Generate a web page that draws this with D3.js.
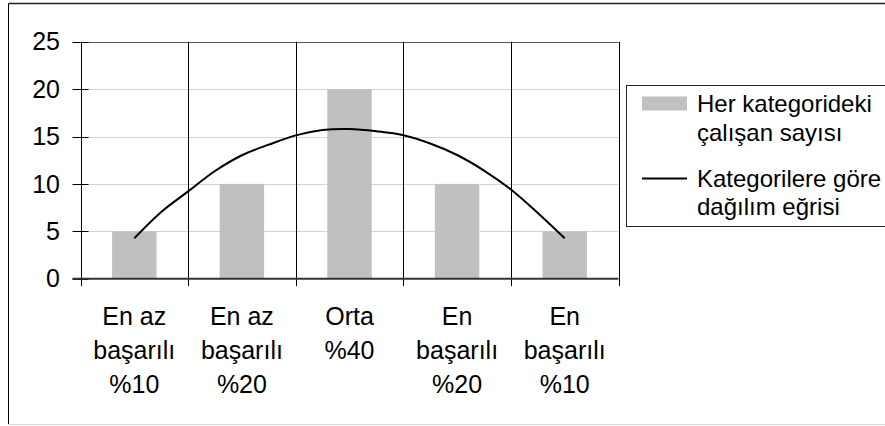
<!DOCTYPE html>
<html>
<head>
<meta charset="utf-8">
<script src="https://cdn.jsdelivr.net/npm/d3@7"></script>
<style>
  html, body { margin: 0; padding: 0; background: #fff; }
  svg { display: block; font-family: "Liberation Sans", Arial, sans-serif; }
</style>
</head>
<body>
<svg id="chart" width="885" height="426"></svg>
<script>
// Category labels (each entry is the label's lines)
const categories = [
  ["En az", "başarılı", "%10"],
  ["En az", "başarılı", "%20"],
  ["Orta", "%40"],
  ["En", "başarılı", "%20"],
  ["En", "başarılı", "%10"]
];

// Number of employees per category (bars)
const employeeCounts = [5, 10, 20, 10, 5];

// Distribution curve: position along the categories (0 = first, 4 = last) and value
const curvePositions = [0, 0.25, 0.5, 0.75, 1, 1.25, 1.5, 1.75, 2, 2.25, 2.5, 2.75, 3, 3.25, 3.5, 3.75, 4];
const curveValues = [4.26, 7.04, 9.21, 11.36, 13.02, 14.14, 15.12, 15.69, 15.79, 15.55, 15.13, 14.26, 13.05, 11.41, 9.41, 6.93, 4.26];

// Y axis ticks
const yTicks = [0, 5, 10, 15, 20, 25];

// Legend entries
const legendBarLabel = ["Her kategorideki", "çalışan sayısı"];
const legendLineLabel = ["Kategorilere göre", "dağılım eğrisi"];

const svg = d3.select("#chart");
const FONT = 25;
const LEGEND_FONT = 24;

const plot = { left: 80.5, right: 618.5, top: 41.7, bottom: 278.7 };

const x = d3.scaleBand()
  .domain(d3.range(categories.length))
  .range([plot.left, plot.right])
  .padding(0);

const y = d3.scaleLinear()
  .domain([0, 25])
  .range([plot.bottom, plot.top]);

const xCurve = d3.scaleLinear()
  .domain([0, categories.length - 1])
  .range([x(0) + x.bandwidth() / 2, x(categories.length - 1) + x.bandwidth() / 2]);

// Chart area frame (left and top edges dark, bottom light)
svg.append("line").attr("x1", 8.5).attr("x2", 8.5).attr("y1", 3.5).attr("y2", 424)
  .attr("stroke", "#000").attr("stroke-width", 1);
svg.append("line").attr("x1", 8.5).attr("x2", 885).attr("y1", 3.5).attr("y2", 3.5)
  .attr("stroke", "#222").attr("stroke-width", 1.5);
svg.append("line").attr("x1", 8.5).attr("x2", 885).attr("y1", 424.5).attr("y2", 424.5)
  .attr("stroke", "#d8d8d8").attr("stroke-width", 1);

// Horizontal gridlines
svg.append("g")
  .selectAll("line")
  .data(yTicks.filter(d => d > 0 && d < 25))
  .join("line")
  .attr("x1", plot.left).attr("x2", plot.right)
  .attr("y1", d => Math.round(y(d)) + 0.5).attr("y2", d => Math.round(y(d)) + 0.5)
  .attr("stroke", "#d4d4d4").attr("stroke-width", 1.2);

// Top line at the axis maximum
svg.append("line")
  .attr("x1", plot.left).attr("x2", plot.right)
  .attr("y1", Math.round(y(25)) + 0.5).attr("y2", Math.round(y(25)) + 0.5)
  .attr("stroke", "#555").attr("stroke-width", 1.2);

// Bars
const barWidth = x.bandwidth() * 0.413;
svg.append("g")
  .selectAll("rect")
  .data(employeeCounts)
  .join("rect")
  .attr("x", (d, i) => x(i) + (x.bandwidth() - barWidth) / 2)
  .attr("y", d => y(d))
  .attr("width", barWidth)
  .attr("height", d => y(0) - y(d))
  .attr("fill", "#c0c0c0");

// Vertical category boundary lines, extending below the axis as tick marks
const boundaries = d3.range(categories.length + 1).map(i => i < categories.length ? x(i) : x(i - 1) + x.bandwidth());
svg.append("g")
  .selectAll("line")
  .data(boundaries)
  .join("line")
  .attr("x1", d => Math.round(d) + 0.5).attr("x2", d => Math.round(d) + 0.5)
  .attr("y1", plot.top).attr("y2", y(0) + 7.5)
  .attr("stroke", "#000").attr("stroke-width", 1);

// Y axis with crossing tick marks
const yAxis = svg.append("g");
yAxis.selectAll("line.tick")
  .data(yTicks)
  .join("line")
  .attr("class", "tick")
  .attr("x1", plot.left - 8).attr("x2", plot.left + 8)
  .attr("y1", d => Math.round(y(d)) + 0.5).attr("y2", d => Math.round(y(d)) + 0.5)
  .attr("stroke", "#000").attr("stroke-width", 1);
yAxis.selectAll("text")
  .data(yTicks)
  .join("text")
  .attr("x", 60)
  .attr("y", d => y(d))
  .attr("dy", "0.35em")
  .attr("text-anchor", "end")
  .attr("font-size", FONT)
  .attr("fill", "#000")
  .text(d => d);

// Category axis line at zero
svg.append("line")
  .attr("x1", plot.left - 8).attr("x2", plot.right)
  .attr("y1", y(0)).attr("y2", y(0))
  .attr("stroke", "#333").attr("stroke-width", 2);

// Category labels
const catLabels = svg.append("g")
  .selectAll("text")
  .data(categories)
  .join("text")
  .attr("x", (d, i) => x(i) + x.bandwidth() / 2)
  .attr("text-anchor", "middle")
  .attr("font-size", FONT)
  .attr("fill", "#000");
catLabels.selectAll("tspan")
  .data(d => d)
  .join("tspan")
  .attr("x", function () { return d3.select(this.parentNode).attr("x"); })
  .attr("y", (d, i) => 325 + i * 33.8)
  .text(d => d);

// Distribution curve
const line = d3.line()
  .x(d => xCurve(d[0]))
  .y(d => y(d[1]))
  .curve(d3.curveCatmullRom.alpha(0.5));
svg.append("path")
  .datum(curvePositions.map((p, i) => [p, curveValues[i]]))
  .attr("d", line)
  .attr("fill", "none")
  .attr("stroke", "#000")
  .attr("stroke-width", 2);

// Legend
const legend = svg.append("g");
legend.append("rect")
  .attr("x", 626.5).attr("y", 85.5)
  .attr("width", 300).attr("height", 141)
  .attr("fill", "#fff").attr("stroke", "#222").attr("stroke-width", 1);
legend.append("rect")
  .attr("x", 642).attr("y", 96.5)
  .attr("width", 45).attr("height", 14)
  .attr("fill", "#c0c0c0");
legend.append("line")
  .attr("x1", 642).attr("x2", 687)
  .attr("y1", 178.5).attr("y2", 178.5)
  .attr("stroke", "#000").attr("stroke-width", 2);
const legendText = legend.append("g")
  .attr("font-size", LEGEND_FONT)
  .attr("fill", "#000");
legendText.selectAll("text.bar")
  .data(legendBarLabel)
  .join("text")
  .attr("class", "bar")
  .attr("x", 697)
  .attr("y", (d, i) => 112 + i * 28.5)
  .text(d => d);
legendText.selectAll("text.line")
  .data(legendLineLabel)
  .join("text")
  .attr("class", "line")
  .attr("x", 697)
  .attr("y", (d, i) => 187 + i * 27.5)
  .text(d => d);
</script>
</body>
</html>
